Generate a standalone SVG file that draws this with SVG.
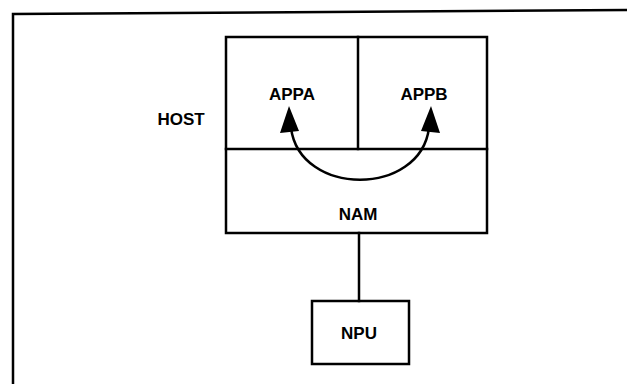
<svg xmlns="http://www.w3.org/2000/svg" width="627" height="384" viewBox="0 0 627 384">
<style>
.ln{fill:none;stroke:#000;stroke-width:2.5;stroke-linecap:square}
.bx{fill:#fff;stroke:#000;stroke-width:2.5}
.t{font-family:"Liberation Sans",Arial,sans-serif;font-weight:bold;font-size:17px;fill:#000;text-anchor:middle}
.ah{fill:#000}
</style>
<rect width="627" height="384" fill="#fff"/>
<g id="frame">
<path class="ln" d="M13 384 L13 14 L627 10"/>
</g>
<g id="host">
<text class="t" x="181" y="125">HOST</text>
<rect class="bx" x="226" y="37" width="261" height="196"/>
</g>
<g id="appa">
<line class="ln" x1="358" y1="37" x2="358" y2="149"/>
<text class="t" x="292" y="100">APPA</text>
</g>
<g id="appb">
<text class="t" x="424" y="100">APPB</text>
</g>
<g id="nam">
<line class="ln" x1="226" y1="149" x2="487" y2="149"/>
<text class="t" x="358" y="220">NAM</text>
</g>
<g id="npu">
<rect class="bx" x="312" y="301" width="97" height="63"/>
<text class="t" x="359" y="339">NPU</text>
</g>
<g id="connectors">
<line class="ln" x1="359" y1="233" x2="359" y2="301"/>
<path class="ln" d="M291 128 C300 197, 420 197, 429 128"/>
<polygon class="ah" points="289,106 280,133 299,131"/>
<polygon class="ah" points="431,106 421,131 440,133"/>
</g>
</svg>
